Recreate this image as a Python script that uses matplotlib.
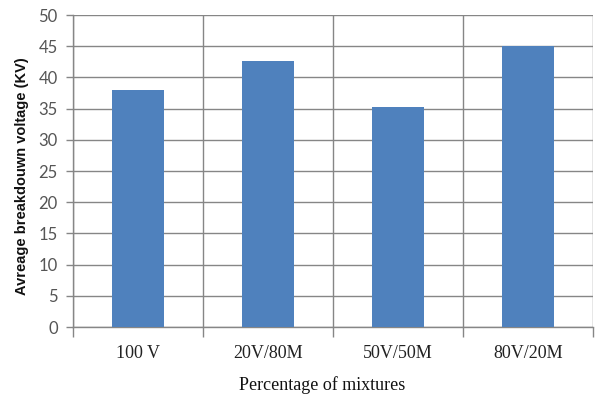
import numpy as np
import matplotlib
matplotlib.use("Agg")
import matplotlib.pyplot as plt

# average breakdown voltage for each oil mixture
categories = ["100 V", "20V/80M", "50V/50M", "80V/20M"]
voltages = [38.0, 42.6, 35.3, 45.0]
y_ticks = [0, 5, 10, 15, 20, 25, 30, 35, 40, 45, 50]

bar_color = "#4f81bd"
grid_color = "#868686"

fig = plt.figure(figsize=(5.95, 4.0), dpi=100)
ax = fig.add_axes([0.1227, 0.1825, 0.874, 0.78])

x = np.arange(len(categories))
ax.bar(x, voltages, width=0.4, color=bar_color, zorder=3)

ax.set_xlim(-0.5, len(categories) - 0.5)
ax.set_ylim(0, 50)

# horizontal grid on major y ticks
ax.set_yticks(y_ticks)
ax.set_yticklabels([str(t) for t in y_ticks], fontfamily="Lato", fontsize=12, color="#555555")
ax.yaxis.grid(True, color=grid_color, linewidth=1.0, zorder=0)

# category boundaries as major x ticks, labels centred on minor ticks
bounds = np.arange(len(categories) + 1) - 0.5
ax.set_xticks(bounds)
ax.set_xticklabels([])
ax.xaxis.grid(True, color=grid_color, linewidth=1.0, zorder=0)
ax.set_xticks(x, minor=True)
ax.set_xticklabels(categories, minor=True, fontfamily="Liberation Serif", fontsize=13, color="#222222")
ax.tick_params(axis="x", which="minor", length=0, pad=13)
ax.tick_params(axis="x", which="major", length=7, color=grid_color, width=1.0)
ax.tick_params(axis="y", length=5, color=grid_color, width=1.0, pad=6)

for side in ["top", "right"]:
    ax.spines[side].set_visible(False)
for side in ["left", "bottom"]:
    ax.spines[side].set_color(grid_color)
    ax.spines[side].set_linewidth(1.0)

fig.text(0.037, 0.56, "Avreage breakdouwn voltage (KV)", rotation=90, ha="center", va="center",
         fontfamily="Liberation Sans", fontweight="bold", fontsize=10.5, color="#111111")
fig.text(0.541, 0.037, "Percentage of mixtures", ha="center", va="center",
         fontfamily="Liberation Serif", fontsize=13, color="#111111")

fig.savefig("out.png", dpi=100, facecolor="white")
